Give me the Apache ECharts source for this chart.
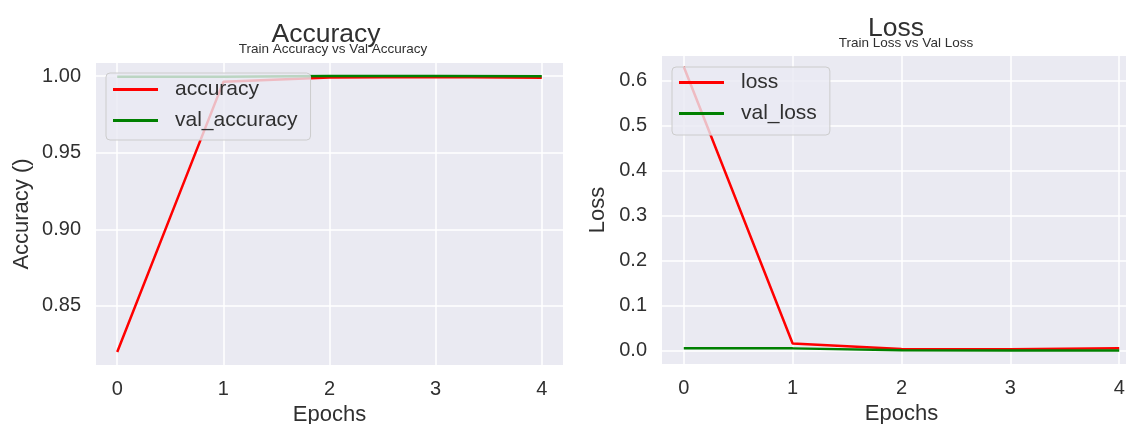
<!DOCTYPE html>
<html>
<head>
<meta charset="utf-8">
<script src="https://cdn.jsdelivr.net/npm/echarts@6/dist/echarts.min.js"></script>
<style>
    html, body { margin: 0; padding: 0; background: #fff; }
    #main { width: 1126px; height: 424px; }
</style>
</head>
<body>
<div id="main"></div>
<script>
// epochs on x
var epochs = [0, 1, 2, 3, 4];
var accuracy = [0.820, 0.9962, 0.9990, 0.9993, 0.9988];
var valAccuracy = [0.9995, 0.9996, 1.0, 1.0, 0.9999];
var loss = [0.631, 0.0165, 0.0045, 0.0040, 0.0062];
var valLoss = [0.0062, 0.0057, 0.0013, 0.0012, 0.0009];

var FONT = 'Liberation Sans';
var TXT = '#303030';
var BG = '#EAEAF2';

function pairs(ys) {
    var d = [];
    for (var i = 0; i < epochs.length; i++) {
        d.push([epochs[i], ys[i]]);
    }
    return d;
}

function xAx(idx) {
    return {
        type: 'value', gridIndex: idx,
        min: -0.2, max: 4.2, splitNumber: 4,
        name: 'Epochs', nameLocation: 'middle', nameGap: 38,
        nameTextStyle: { fontFamily: FONT, fontSize: 22, color: TXT },
        axisLine: { show: false }, axisTick: { show: false },
        axisLabel: { fontFamily: FONT, fontSize: 20, color: TXT, margin: 14,
            showMinLabel: false, showMaxLabel: false },
        splitLine: { show: true, showMinLine: false, showMaxLine: false,
            lineStyle: { color: '#fff', width: 1.5 } }
    };
}

function legendBox(left, top, names, pad) {
    return {
        left: left, top: top, orient: 'vertical',
        data: names,
        icon: 'rect', itemWidth: 45, itemHeight: 3, itemGap: 10,
        padding: pad,
        backgroundColor: 'rgba(234,234,242,0.8)',
        borderColor: '#ccc', borderWidth: 1, borderRadius: 4,
        textStyle: { fontFamily: FONT, fontSize: 21, color: TXT, lineHeight: 21,
            padding: [0, 0, 0, 12] }
    };
}

var chart = echarts.init(document.getElementById('main'));

var option = {
    backgroundColor: '#fff',
    animation: false,
    title: [
        { text: 'Accuracy', left: 321, top: 16, textAlign: 'center',
          textStyle: { fontFamily: FONT, fontSize: 26.5, fontWeight: 'normal', color: TXT } },
        { text: 'Train Accuracy vs Val Accuracy', left: 328, top: 37, textAlign: 'center',
          textStyle: { fontFamily: FONT, fontSize: 13.5, fontWeight: 'normal', color: TXT } },
        { text: 'Loss', left: 891, top: 10, textAlign: 'center',
          textStyle: { fontFamily: FONT, fontSize: 26.5, fontWeight: 'normal', color: TXT } },
        { text: 'Train Loss vs Val Loss', left: 901, top: 31, textAlign: 'center',
          textStyle: { fontFamily: FONT, fontSize: 13.5, fontWeight: 'normal', color: TXT } }
    ],
    legend: [
        legendBox(106, 73, ['accuracy', 'val_accuracy'], [6, 13, 9, 7]),
        legendBox(672, 67, ['loss', 'val_loss'], [5, 13, 11, 7])
    ],
    grid: [
        { left: 96, width: 467, top: 63, height: 302, show: true,
          outerBoundsMode: 'none', containLabel: false,
          backgroundColor: BG, borderWidth: 0 },
        { left: 662, width: 479, top: 56, height: 308, show: true,
          outerBoundsMode: 'none', containLabel: false,
          backgroundColor: BG, borderWidth: 0 }
    ],
    xAxis: [xAx(0), xAx(1)],
    yAxis: [
        {
            type: 'value', gridIndex: 0,
            min: 0.8115, max: 1.0085, splitNumber: 4,
            name: 'Accuracy ()', nameLocation: 'middle', nameGap: 63,
            nameTextStyle: { fontFamily: FONT, fontSize: 22, color: TXT },
            axisLine: { show: false }, axisTick: { show: false },
            axisLabel: { fontFamily: FONT, fontSize: 20, color: TXT, margin: 15,
                showMinLabel: false, showMaxLabel: false,
                formatter: function (v) { return v.toFixed(2); } },
            splitLine: { show: true, showMinLine: false, showMaxLine: false,
                lineStyle: { color: '#fff', width: 1.5 } }
        },
        {
            type: 'value', gridIndex: 1,
            min: -0.029, max: 0.655, splitNumber: 7,
            name: 'Loss', nameLocation: 'middle', nameGap: 53,
            nameTextStyle: { fontFamily: FONT, fontSize: 22, color: TXT },
            axisLine: { show: false }, axisTick: { show: false },
            axisLabel: { fontFamily: FONT, fontSize: 20, color: TXT, margin: 15,
                showMinLabel: false, showMaxLabel: false,
                formatter: function (v) { return v.toFixed(1); } },
            splitLine: { show: true, showMinLine: false, showMaxLine: false,
                lineStyle: { color: '#fff', width: 1.5 } }
        }
    ],
    series: [
        { name: 'accuracy', type: 'line', xAxisIndex: 0, yAxisIndex: 0,
          data: pairs(accuracy), showSymbol: false, color: '#ff0000',
          lineStyle: { width: 2.5, color: '#ff0000' } },
        { name: 'val_accuracy', type: 'line', xAxisIndex: 0, yAxisIndex: 0,
          data: pairs(valAccuracy), showSymbol: false, color: '#008000',
          lineStyle: { width: 2.5, color: '#008000' } },
        { name: 'loss', type: 'line', xAxisIndex: 1, yAxisIndex: 1,
          data: pairs(loss), showSymbol: false, color: '#ff0000',
          lineStyle: { width: 2.5, color: '#ff0000' } },
        { name: 'val_loss', type: 'line', xAxisIndex: 1, yAxisIndex: 1,
          data: pairs(valLoss), showSymbol: false, color: '#008000',
          lineStyle: { width: 2.5, color: '#008000' } }
    ]
};

chart.setOption(option);
</script>
</body>
</html>
